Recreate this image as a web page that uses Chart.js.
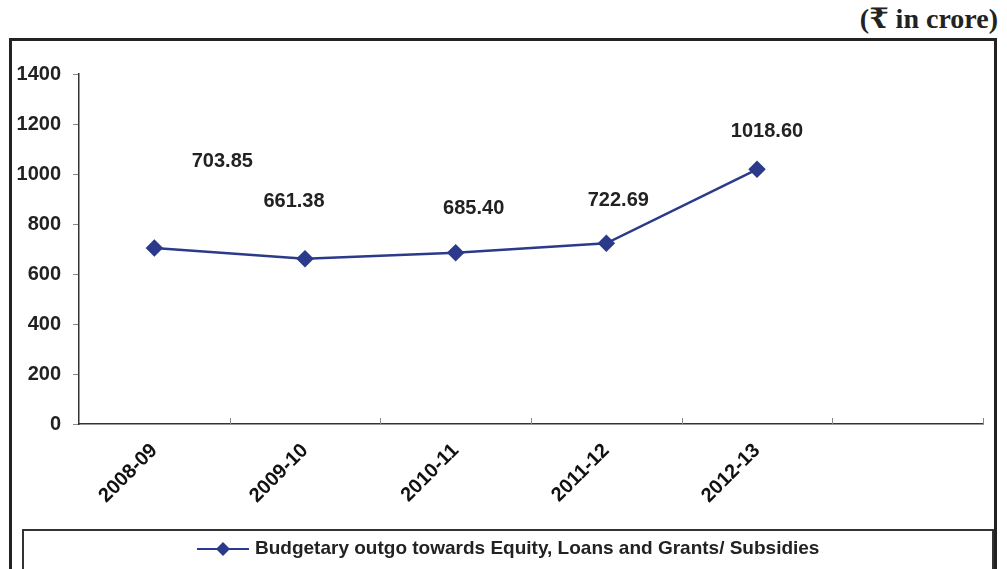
<!DOCTYPE html>
<html>
<head>
<meta charset="utf-8">
<script src="https://cdn.jsdelivr.net/npm/chart.js@4.4.1/dist/chart.umd.min.js"></script>
<style>
  body { margin: 0; background: #fff; }
  #wrap { position: relative; width: 1007px; height: 569px; overflow: hidden; }
  #unit { position: absolute; right: 9px; top: 2px; font: bold 28px "Liberation Serif", "DejaVu Serif", serif; color: #222; }
  #frame { position: absolute; left: 9px; top: 38px; width: 988px; height: 600px; border: 3px solid #222; border-bottom: none; box-sizing: border-box; }
  #legendBox { position: absolute; left: 22px; top: 529px; width: 972px; height: 80px; border: 2px solid #333; box-sizing: border-box; }
  canvas { position: absolute; left: 0; top: 0; }
</style>
</head>
<body>
<div id="wrap">
  <div id="unit">(₹ in crore)</div>
  <div id="frame"></div>
  <div id="legendBox"></div>
  <canvas id="outgoChart" width="1007" height="569"></canvas>
</div>
<script>
// du lieu doc tu hinh
const years = ["2008-09", "2009-10", "2010-11", "2011-12", "2012-13", ""];
const outgo = [703.85, 661.38, 685.40, 722.69, 1018.60, null];
const yTicks = [0, 200, 400, 600, 800, 1000, 1200, 1400];
const seriesName = "Budgetary outgo towards Equity, Loans and Grants/ Subsidies";
// label offsets (px) so the value text sits like in the picture
const labelDx = [68, -11, 18, 12, 10];
const labelDy = [-87, -57, -44, -43, -38];

const navy = "#2b3a8a";
const fontFam = "'Liberation Sans', Arial, sans-serif";

// ve nhan gia tri
const valueLabels = {
  id: "valueLabels",
  afterDatasetsDraw(chart) {
    const ctx = chart.ctx;
    const meta = chart.getDatasetMeta(0);
    ctx.save();
    ctx.font = "bold 20px " + fontFam;
    ctx.fillStyle = "#222";
    ctx.textAlign = "center";
    ctx.textBaseline = "middle";
    meta.data.forEach((pt, i) => {
      if (outgo[i] == null) return;
      ctx.fillText(outgo[i].toFixed(2), pt.x + labelDx[i], pt.y + labelDy[i]);
    });
    ctx.restore();
  }
};

// vach chia truc x huong vao trong + chu thich
const extras = {
  id: "extras",
  afterDraw(chart) {
    const ctx = chart.ctx;
    const x = chart.scales.x;
    ctx.save();
    ctx.strokeStyle = "#888";
    ctx.lineWidth = 1;
    const step = x.width / years.length;
    for (let i = 1; i <= years.length; i++) {
      const px = Math.round(x.left + i * step) + 0.5;
      ctx.beginPath();
      ctx.moveTo(px, x.top);
      ctx.lineTo(px, x.top - 6);
      ctx.stroke();
    }
    // legend
    const ly = 549;
    ctx.strokeStyle = navy;
    ctx.lineWidth = 2;
    ctx.beginPath();
    ctx.moveTo(197, ly);
    ctx.lineTo(249, ly);
    ctx.stroke();
    ctx.fillStyle = navy;
    ctx.beginPath();
    ctx.moveTo(223, ly - 7);
    ctx.lineTo(230, ly);
    ctx.lineTo(223, ly + 7);
    ctx.lineTo(216, ly);
    ctx.closePath();
    ctx.fill();
    ctx.fillStyle = "#222";
    ctx.font = "bold 19px " + fontFam;
    ctx.textBaseline = "middle";
    ctx.fillText(seriesName, 255, ly);
    ctx.restore();
  }
};

const ctx = document.getElementById("outgoChart").getContext("2d");
const myChart = new Chart(ctx, {
  type: "line",
  data: {
    labels: years,
    datasets: [{
      label: seriesName,
      data: outgo,
      borderColor: navy,
      backgroundColor: navy,
      borderWidth: 2.5,
      pointStyle: "rectRot",
      pointRadius: 7,
      pointBackgroundColor: navy,
      pointBorderColor: navy,
      tension: 0
    }]
  },
  options: {
    responsive: false,
    animation: false,
    layout: { padding: { left: 12, top: 74, right: 24, bottom: 0 } },
    plugins: { legend: { display: false }, tooltip: { enabled: false } },
    scales: {
      x: {
        offset: true,
        afterFit(scale) { scale.height = 145; },
        grid: { drawOnChartArea: false, drawTicks: false },
        border: { color: "#333", width: 1.5 },
        ticks: {
          maxRotation: 45,
          minRotation: 45,
          padding: 15,
          color: "#111",
          font: { family: fontFam, size: 20, weight: "bold" }
        }
      },
      y: {
        min: 0,
        max: 1400,
        afterFit(scale) { scale.width = 67; },
        afterBuildTicks(scale) { scale.ticks = yTicks.map(v => ({ value: v })); },
        grid: { drawOnChartArea: false, drawTicks: true, tickLength: 6, color: "#888" },
        border: { color: "#333", width: 1.5 },
        ticks: {
          padding: 12,
          color: "#222",
          callback: v => String(v),
          font: { family: fontFam, size: 20, weight: "bold" }
        }
      }
    }
  },
  plugins: [valueLabels, extras]
});
</script>
</body>
</html>
